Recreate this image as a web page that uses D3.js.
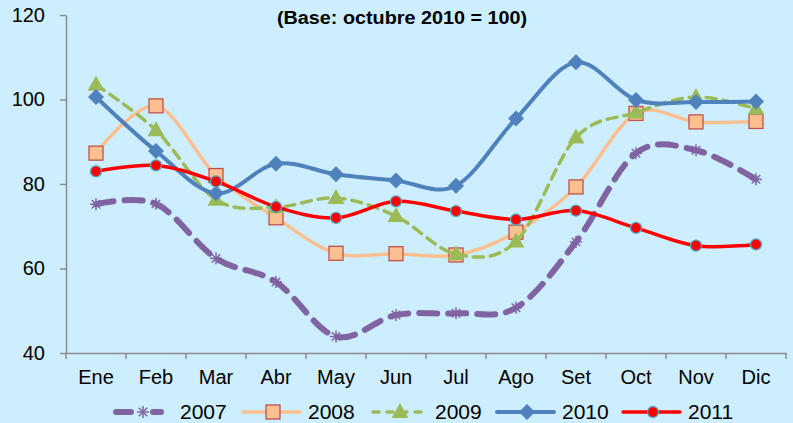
<!DOCTYPE html>
<html><head><meta charset="utf-8">
<script src="https://cdn.jsdelivr.net/npm/d3@7"></script>
<style>
body{margin:0;background:#cdeefe;}
svg{display:block;font-family:"Liberation Sans",Arial,sans-serif;}
</style></head><body>
<svg id="c" width="793" height="423"></svg>
<script>
const months = ["Ene","Feb","Mar","Abr","May","Jun","Jul","Ago","Set","Oct","Nov","Dic"];
const years = ["2007","2008","2009","2010","2011"];
const v2007 = [75.2, 75.3, 62.4, 56.8, 43.9, 49.0, 49.4, 50.7, 66.3, 87.3, 88.0, 81.1];
const v2008 = [87.3, 98.5, 82.0, 72.0, 63.6, 63.5, 63.2, 68.6, 79.3, 96.7, 94.7, 94.8];
const v2009 = [103.5, 92.7, 76.3, 74.5, 76.7, 72.4, 63.4, 66.4, 91.0, 96.9, 100.6, 97.8];
const v2010 = [100.6, 87.8, 77.8, 84.8, 82.3, 80.8, 79.6, 95.5, 108.8, 99.9, 99.4, 99.5];
const v2011 = [83.0, 84.4, 80.6, 74.6, 72.0, 75.9, 73.6, 71.6, 73.7, 69.6, 65.4, 65.7];
const yTicks = [40, 60, 80, 100, 120];
const title = "(Base: octubre 2010 = 100)";

const svg = d3.select("#c");
svg.append("rect").attr("width",793).attr("height",423).attr("fill","#cdeefe");

const x = d3.scaleBand().domain(months).range([66, 786]);
const cx = m => x(m) + x.bandwidth()/2;
const y = d3.scaleLinear().domain([40,120]).range([353, 15]);

// axes
const yAx = svg.append("g").attr("transform","translate(66,0)")
  .call(d3.axisLeft(y).tickValues(yTicks).tickSize(6).tickSizeOuter(0).tickPadding(15));
yAx.selectAll("text").attr("font-size",20).attr("fill","#000").attr("font-family","Liberation Sans, Arial");
const xAx = svg.append("g").attr("transform","translate(0,353)")
  .call(d3.axisBottom(x).tickSize(0).tickSizeOuter(0).tickPadding(0));
xAx.selectAll("text").attr("font-size",20).attr("fill","#000").attr("font-family","Liberation Sans, Arial")
  .attr("dy",null).attr("y",31);
svg.selectAll(".domain").attr("stroke","#8c8c8c").attr("stroke-width",1.5);
yAx.selectAll(".tick line").attr("stroke","#8c8c8c").attr("stroke-width",1.5);
const bounds = months.map(m => x(m)).concat([x.range()[1]]);
svg.append("g").selectAll("line").data(bounds).join("line")
  .attr("x1",d=>d).attr("x2",d=>d).attr("y1",353).attr("y2",359)
  .attr("stroke","#8c8c8c").attr("stroke-width",1.5);

// title
svg.append("text").attr("x",277).attr("y",24)
  .attr("font-size",17.5).attr("font-weight","bold")
  .attr("textLength",250).attr("lengthAdjust","spacingAndGlyphs").text(title);

const series = [
  {name:"2007", vals:v2007, color:"#8064a2", width:6, dash:"18,11", marker:"star"},
  {name:"2008", vals:v2008, color:"#fac090", width:3.5, dash:null, marker:"square"},
  {name:"2009", vals:v2009, color:"#9bbb59", width:3.5, dash:"10,7", marker:"triangle"},
  {name:"2010", vals:v2010, color:"#4f81bd", width:4, dash:null, marker:"diamond"},
  {name:"2011", vals:v2011, color:"#ff0000", width:3.5, dash:null, marker:"circle"}
];

const line = d3.line().x(d=>d[0]).y(d=>d[1]).curve(d3.curveCatmullRom.alpha(0));

function drawMarker(g, type, px, py){
  if(type==="square"){
    g.append("rect").attr("x",px-7).attr("y",py-7).attr("width",14).attr("height",14)
      .attr("fill","#fac090").attr("stroke","#c0504d").attr("stroke-width",1.3);
  } else if(type==="triangle"){
    g.append("path").attr("d",`M${px},${py-9}L${px+8.5},${py+6}L${px-8.5},${py+6}Z`)
      .attr("fill","#9bbb59");
  } else if(type==="diamond"){
    g.append("path").attr("d",`M${px},${py-8}L${px+8},${py}L${px},${py+8}L${px-8},${py}Z`)
      .attr("fill","#4f81bd");
  } else if(type==="circle"){
    g.append("circle").attr("cx",px).attr("cy",py).attr("r",5.5)
      .attr("fill","#ff0000").attr("stroke","#4bacc6").attr("stroke-width",1.3);
  } else if(type==="star"){
    const r=6;
    const d=[[-r,0,r,0],[0,-r,0,r],[-r*0.7,-r*0.7,r*0.7,r*0.7],[-r*0.7,r*0.7,r*0.7,-r*0.7]];
    d.forEach(a=>g.append("line").attr("x1",px+a[0]).attr("y1",py+a[1]).attr("x2",px+a[2]).attr("y2",py+a[3])
      .attr("stroke","#8064a2").attr("stroke-width",1.5));
  }
}

series.forEach(s=>{
  const g = svg.append("g");
  const pts = months.map((m,i)=>[cx(m), y(s.vals[i])]);
  g.append("path").attr("d",line(pts)).attr("fill","none").attr("stroke",s.color)
    .attr("stroke-width",s.width).attr("stroke-dasharray",s.dash).attr("stroke-linecap","round");
  pts.forEach(p=>drawMarker(g,s.marker,p[0],p[1]));
});

// legend
const legX = [113, 243, 370, 497, 623];
const ly = 412;
series.forEach((s,i)=>{
  const g = svg.append("g");
  const x0 = legX[i], x1 = x0+60;
  if(s.name==="2007"){
    [[x0+3,x0+18],[x0+40,x0+48]].forEach(seg=>g.append("line")
      .attr("x1",seg[0]).attr("x2",seg[1]).attr("y1",ly).attr("y2",ly)
      .attr("stroke",s.color).attr("stroke-width",s.width).attr("stroke-linecap","round"));
    drawMarker(g,s.marker,x0+30,ly);
    g.append("text").attr("x",x0+67).attr("y",ly+6.5).attr("font-size",21).text(s.name);
    return;
  }
  g.append("line").attr("x1",x0+(s.dash?3:0)).attr("x2",x1-3).attr("y1",ly).attr("y2",ly)
    .attr("stroke",s.color).attr("stroke-width",s.width)
    .attr("stroke-dasharray", s.dash ? "6,8" : null)
    .attr("stroke-linecap","round");
  drawMarker(g,s.marker,(x0+x1)/2,ly);
  g.append("text").attr("x",x1+5).attr("y",ly+6.5).attr("font-size",21).text(s.name);
});
</script></body></html>
